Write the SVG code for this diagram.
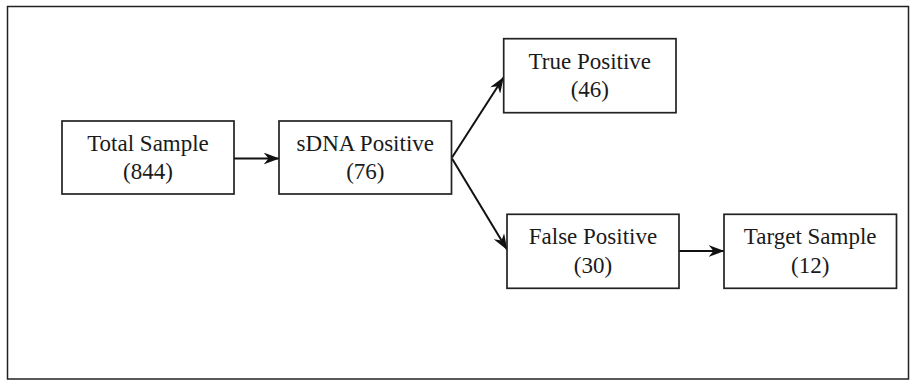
<svg xmlns="http://www.w3.org/2000/svg" width="916" height="382" viewBox="0 0 916 382">
<style>
.box{fill:#fff;stroke:#222;stroke-width:1.7}
.lbl{font-family:"Liberation Serif","Times New Roman",serif;font-size:23px;fill:#1a1a1a;text-anchor:middle}
.con{stroke:#111;stroke-width:2;fill:none;marker-end:url(#ah)}
</style>
<defs>
<marker id="ah" viewBox="0 0 16 12" refX="15.5" refY="6" markerWidth="16" markerHeight="12" markerUnits="userSpaceOnUse" orient="auto">
<path d="M0,0 L16,6 L0,12 L5,6 Z" fill="#111"/>
</marker>
</defs>
<rect x="7.5" y="6.5" width="901" height="372.5" fill="#fff" stroke="#222" stroke-width="1.5"/>
<g id="connectors">
<line class="con" x1="234" y1="158.5" x2="279" y2="158.5"/>
<line class="con" x1="452" y1="157.5" x2="503.5" y2="77.5"/>
<line class="con" x1="452" y1="158.5" x2="507" y2="249.5"/>
<line class="con" x1="679" y1="251" x2="724" y2="251"/>
</g>
<g id="total">
<rect class="box" x="62" y="121" width="172" height="73"/>
<text class="lbl" x="148" y="150.7">Total Sample</text>
<text class="lbl" x="148" y="179.3">(844)</text>
</g>
<g id="sdna">
<rect class="box" x="279" y="121" width="172.5" height="73"/>
<text class="lbl" x="365.3" y="150.7">sDNA Positive</text>
<text class="lbl" x="365.3" y="179.3">(76)</text>
</g>
<g id="truepos">
<rect class="box" x="503.7" y="38.7" width="172.3" height="74"/>
<text class="lbl" x="589.8" y="68.5">True Positive</text>
<text class="lbl" x="589.8" y="97">(46)</text>
</g>
<g id="falsepos">
<rect class="box" x="507" y="214.3" width="172" height="74"/>
<text class="lbl" x="593" y="244">False Positive</text>
<text class="lbl" x="593" y="272.5">(30)</text>
</g>
<g id="target">
<rect class="box" x="724" y="214.3" width="172.5" height="74"/>
<text class="lbl" x="810.2" y="244">Target Sample</text>
<text class="lbl" x="810.2" y="272.5">(12)</text>
</g>
</svg>
